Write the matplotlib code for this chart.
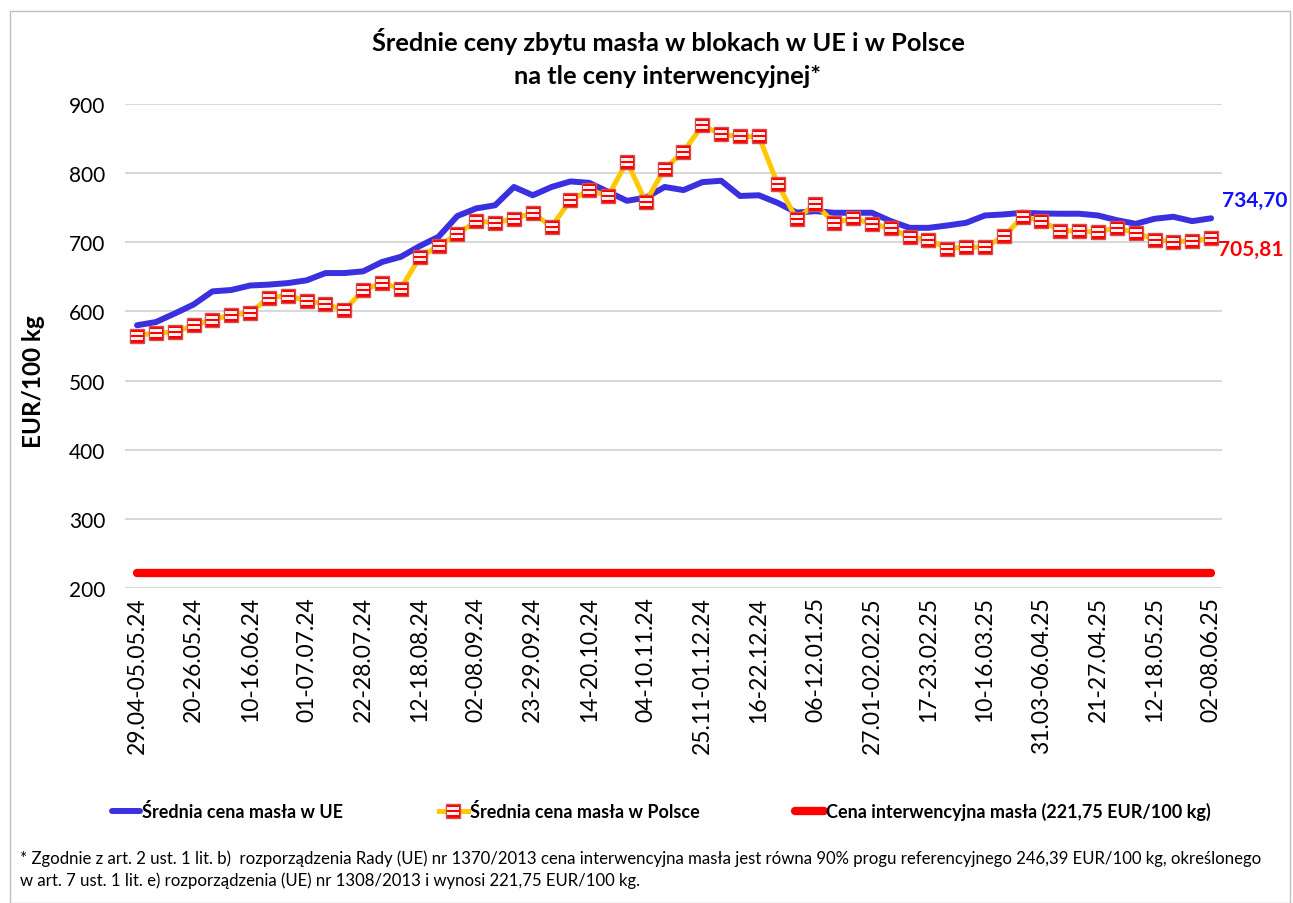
import numpy as np
import matplotlib
matplotlib.use('Agg')
import matplotlib.pyplot as plt
from matplotlib.path import Path
from matplotlib.patches import Rectangle

plt.rcParams['font.family'] = ['Lato', 'DejaVu Sans']
plt.rcParams['axes.unicode_minus'] = False

# dane tygodniowe (EUR/100 kg), od 29.04-05.05.24 do 02-08.06.25
ceny_ue = [580, 584.6, 597, 610, 629, 631, 637.5, 638.8, 641, 645,
           655.5, 655.5, 658, 671.5, 679, 694.5, 708, 738, 749, 753.5,
           780, 768, 780, 788, 786, 773, 760, 764.5, 780, 775.5,
           787, 789, 767, 768, 757, 743, 745, 742.7, 742.7, 742.7,
           730.6, 720.9, 720.9, 724.3, 728.2, 738.8, 740.3, 742.7, 741.7, 741.3,
           741.3, 738.8, 732, 726.7, 734, 736.9, 730.6, 734.70]
ceny_pl = [565, 569, 570, 580, 588, 595, 598, 620, 623, 615,
           611, 601.5, 631, 641, 633, 678.5, 694.5, 712, 730.5, 728.5,
           734, 742.5, 722.5, 761, 775, 767, 816.5, 758.5, 806.5, 831,
           869, 856, 853, 853, 784, 734, 755, 728, 734.5, 727,
           720, 707.5, 704, 691, 693, 693, 708.5, 737, 730.5, 717,
           716, 715, 721, 713.5, 704, 700.5, 702.5, 705.81]
cena_interwencyjna = 221.75

etykiety = ['29.04-05.05.24', '20-26.05.24', '10-16.06.24', '01-07.07.24',
            '22-28.07.24', '12-18.08.24', '02-08.09.24', '23-29.09.24',
            '14-20.10.24', '04-10.11.24', '25.11-01.12.24', '16-22.12.24',
            '06-12.01.25', '27.01-02.02.25', '17-23.02.25', '10-16.03.25',
            '31.03-06.04.25', '21-27.04.25', '12-18.05.25', '02-08.06.25']

tygodnie = np.arange(len(ceny_ue))
interw = [cena_interwencyjna] * len(tygodnie)

# marker: czerwony kwadrat z dwoma bialymi paskami
def prostokat(x0, y0, x1, y1):
    return [(x0, y0), (x1, y0), (x1, y1), (x0, y1), (x0, y0)], \
           [Path.MOVETO, Path.LINETO, Path.LINETO, Path.LINETO, Path.CLOSEPOLY]

v1, c1 = prostokat(-0.40, 0.08, 0.40, 0.25)
v2, c2 = prostokat(-0.40, -0.25, 0.40, -0.08)
paski = Path(v1 + v2, c1 + c2)
ms = 10.5

fig = plt.figure(figsize=(12.93, 9.04), dpi=100)
ax = fig.add_axes([125 / 1293, 1 - 589 / 904, 1097 / 1293, 484 / 904])

l_int, = ax.plot(tygodnie, interw, color='#FF0000', lw=6, solid_capstyle='round', zorder=2)
l_ue, = ax.plot(tygodnie, ceny_ue, color='#3A30E0', lw=4.3, solid_capstyle='round', zorder=3)
l_pl, = ax.plot(tygodnie, ceny_pl, color='#FFC800', lw=3.6, marker='s', ms=ms,
                mfc='#FF0000', mec='#D05050', mew=1, zorder=4)
l_pl2, = ax.plot(tygodnie, ceny_pl, ls='none', marker=paski, ms=ms * 0.80,
                 mfc='#FFF0F0', mew=0, zorder=5)

ax.set_ylim(200, 900)
ax.set_xlim(-0.64, len(tygodnie) - 1 + 0.58)
ax.set_yticks(range(200, 901, 100))
ax.set_xticks(tygodnie[::3])
ax.set_xticklabels(etykiety, rotation=90, fontsize=16.5)
ax.tick_params(axis='y', labelsize=15, length=0, pad=14)
ax.tick_params(axis='x', length=0, pad=6)
ax.grid(axis='y', color='#D9D9D9', lw=1.5)
ax.set_axisbelow(True)
for s in ax.spines.values():
    s.set_visible(False)

ax.set_ylabel('EUR/100 kg', fontsize=17.5, fontweight='bold')
ax.yaxis.set_label_coords(-0.073, 0.428)

# wartosci na koncu serii
ax.annotate('734,70', (tygodnie[-1], ceny_ue[-1]), xytext=(8, 13), textcoords='offset points',
            color='#1010FF', fontsize=15, fontweight='bold', va='center', ha='left')
ax.annotate('705,81', (tygodnie[-1], ceny_pl[-1]), xytext=(5, -8), textcoords='offset points',
            color='#FF0000', fontsize=15, fontweight='bold', va='center', ha='left')

fig.text(668 / 1293, 1 - 58 / 904, 'Średnie ceny zbytu masła w blokach w UE i w Polsce\nna tle ceny interwencyjnej*',
         ha='center', va='center', fontsize=18.3, fontweight='bold', linespacing=1.5)

fig.legend([l_ue, (l_pl, l_pl2), l_int],
           ['Średnia cena masła w UE', 'Średnia cena masła w Polsce',
            'Cena interwencyjna masła (221,75 EUR/100 kg)'],
           loc='center', bbox_to_anchor=(661 / 1293, 1 - 812 / 904), ncol=3, frameon=False,
           handlelength=1.6, handletextpad=0.1, columnspacing=5.3,
           prop={'size': 13, 'weight': 'bold'})

fig.text(20 / 1293, 1 - 870 / 904,
         '* Zgodnie z art. 2 ust. 1 lit. b)  rozporządzenia Rady (UE) nr 1370/2013 cena interwencyjna masła jest równa 90% progu referencyjnego 246,39 EUR/100 kg, określonego\n'
         'w art. 7 ust. 1 lit. e) rozporządzenia (UE) nr 1308/2013 i wynosi 221,75 EUR/100 kg.',
         ha='left', va='center', fontsize=12.1, linespacing=1.4)

# ramka wykresu
fig.patches.append(Rectangle((10 / 1293, 0), 1280 / 1293, 1 - 12 / 904, transform=fig.transFigure,
                             fill=False, edgecolor='#BFBFBF', lw=1))

plt.savefig('out.png', dpi=100)
